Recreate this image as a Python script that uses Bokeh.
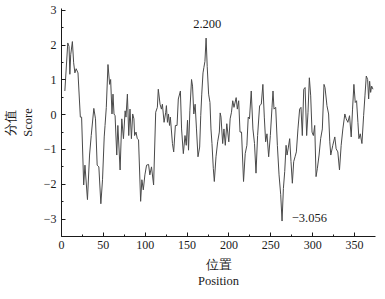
from bokeh.plotting import figure
from bokeh.models import Range1d, FixedTicker, Label
from bokeh.embed import file_html
from bokeh.resources import INLINE

positions = [4, 7.5, 9, 10, 11, 13, 14.5, 16, 17.5, 19.7, 22.5, 24, 26.5, 28, 31, 33.5, 35.5, 38.6,
             40.6, 42.6, 44.6, 47, 49, 51, 52, 53.5, 55.5, 57.5, 58.7, 60.3, 61.5, 62.7,
             64, 66, 67.3, 70, 72, 74, 76, 77, 78.7, 80.3, 81.8, 83.5, 85, 86.5, 87.3, 89, 90.5,
             92, 94.5, 96, 97.7, 99.6, 101.6, 104, 105.5, 107.5, 110, 112.5, 114.5, 115.6, 117.7,
             119.3, 120.5, 122.5, 124.5, 125.3, 126.5, 127.7, 129, 130, 132.5, 134, 136, 138, 139.5,
             142, 143.4, 145.5, 147.5, 149, 150.5, 151.7, 153.3, 155.3, 156.5, 158, 159.6, 161.2,
             163, 165, 166.3, 167.5, 169, 170, 171.3, 172.7, 174, 175.7, 177.3, 178.5, 179.7, 181.3,
             182.5, 184.5, 186.5, 188.5, 189.5, 190.5, 192.5, 194, 195.6, 197.4, 199.8, 201.4, 203,
             204.5, 206, 208.6, 210, 211.6, 213.2, 215, 217.4, 219.4, 221.4, 223, 224.5, 226.6,
             228.6, 230.5, 232.3, 234.2, 236.6, 238.6, 240.5, 242.2, 243.8, 245.4, 247.4, 249.4,
             251.4, 252.6, 253.8, 255.8, 257.8, 259.8, 261.8, 263.4, 265, 266.6, 268.2, 269.4, 271,
             272.5, 274.1, 275.7, 277.3, 278.9, 280.5, 282.4, 284.4, 286, 287.6, 289.3, 290.9, 292.8,
             294.4, 296, 297.6, 299.2, 300.8, 302.4, 304, 305.6, 307.6, 309.5, 311.5, 313.5, 314.7,
             316.2, 317, 319, 320.4, 321.6, 324, 326.4, 328, 330, 332, 334, 336, 338.4, 340, 342,
             344, 346, 347.6, 349.2, 350.8, 352.4, 354, 355.2, 356.8, 358.8, 360.8, 362.4, 364,
             365.6, 366.8, 368, 369.2, 370.4, 372]

scores = [0.68, 2.06, 1.96, 1.16, 1.72, 2.1, 1.49, 1.2, 1.32, 1.2, -0.07, -0.07, -2.02, -1.45, -2.44,
          -1.16, -0.6, 0.18, -0.12, -1.45, -1.5, -2.56, -1.87, -0.64, -0.31, 0.21, 1.44, 0.87, 1.01,
          0.02, 0.59, 0.02,
          -0.03, -1.16, -0.31, -1.59, -0.12, -0.69, 0.11, -0.07, 0.59, -0.6, 0.16, -0.69, 0.02,
          -0.12, -0.6, -0.5, -0.69, -0.72, -2.49, -1.87, -2.16, -1.73, -1.45, -1.43, -1.73, -1.5,
          -2.02, 0.07, 0.21, 0.73, 0.3, 0.16, 0.3, -0.22, 0.07, 0.26, -0.22, 0.02, -0.31, -0.07,
          -0.83, -1.07, -0.31, -0.31, 0.45, 0.68, -0.41, -1.12, -0.6, -0.88, -0.16, -1.02, 0.11,
          1.01, 0.82, 0.02, 0.3, -0.41, -1.21, -0.93, -0.03, 0.59, 1.2, 1.35, 1.53, 2.2, 1.39,
          0.59, 0.35, -0.41, -0.83, -1.54, -1.92, -1.21, -0.78, -0.5, 0.05, -0.07, -0.83, -0.41,
          -0.88, -0.26, -0.78, -0.12, 0.07, 0.4, 0.21, 0.49, 0.16, 0.4, -0.5, -0.5, -1.92, -1.12,
          -0.88, -0.07, -0.12, 0.68, -0.41, -0.83, -1.68, -0.6, 0.26, 0.3, 0.87, -0.07, -0.78,
          -0.55, -1.21, -0.6, 0.21, 0.68, 0.16, 0.21, -0.88, -1.73, -2.3, -3.056, -2.12, -1.63,
          -0.88, -1.16, -0.93, -0.69, -1.35, -1.97, -1.35, -1.21, -1.07, -0.41, 0.16, 0.21, -0.6,
          0.73, 0.78, -0.6, 0.07, 1.06, 0.54, -0.5, -0.6, -0.31, -1.78, -1.54, -1.16, -0.69, -0.41,
          0.87, 0.78, 0.45, 0.26, 0.02, -0.78, -1.16, -0.88, -0.64, -0.98, -1.07, -1.59, -0.88,
          -0.41, 0.02, -0.12, -0.22, -0.03, -0.64, 0.16, 0.87, 0.35, 0.4, -0.22, -0.69, -0.55,
          -0.83, -0.03, 0.54, 1.11, 1.01, 0.45, 0.96, 0.64, 0.82, 0.73]

x_ticks = [0, 50, 100, 150, 200, 250, 300, 350]
x_minor = [25, 75, 125, 175, 225, 275, 325]
y_ticks = [-3, -2, -1, 0, 1, 2, 3]
y_minor = [-3.5, -2.5, -1.5, -0.5, 0.5, 1.5, 2.5]
y_tick_labels = {-3: "\u22123", -2: "\u22122", -1: "\u22121", 0: "0", 1: "1", 2: "2", 3: "3"}

peak_text = "2.200"
peak_pos, peak_val = 174, 2.48
min_text = "\u22123.056"
min_pos, min_val = 275, -2.97

SERIF = "Liberation Serif"
INK = "#1a1a1a"

p = figure(width=377, height=291, output_backend="svg", toolbar_location=None,
           x_range=Range1d(0, 375), y_range=Range1d(-3.5, 3.05),
           min_border_left=61, min_border_right=2, min_border_top=8, min_border_bottom=52)
p.outline_line_color = None
p.grid.visible = False
p.background_fill_color = "white"
p.border_fill_color = "white"

p.line(positions, scores, line_color="#4a4a4a", line_width=1)

for ax in (p.xaxis[0], p.yaxis[0]):
    ax.axis_line_color = INK
    ax.major_tick_line_color = INK
    ax.minor_tick_line_color = INK
    ax.major_tick_in = 4
    ax.major_tick_out = 0
    ax.minor_tick_in = 2
    ax.minor_tick_out = 0
    ax.major_label_text_font = SERIF
    ax.major_label_text_font_size = "12px"
    ax.major_label_text_color = INK
    ax.axis_label_text_font = SERIF
    ax.axis_label_text_font_size = "12.5px"
    ax.axis_label_text_font_style = "normal"
    ax.axis_label_text_color = INK

p.xaxis.ticker = FixedTicker(ticks=x_ticks, minor_ticks=x_minor)
p.yaxis.ticker = FixedTicker(ticks=y_ticks, minor_ticks=y_minor)
p.yaxis.major_label_overrides = y_tick_labels
p.xaxis.major_label_standoff = 4
p.yaxis.major_label_standoff = 5
p.xaxis.axis_label = "位置\nPosition"
p.yaxis.axis_label = "分值\nScore"
p.xaxis.axis_label_standoff = 6
p.yaxis.axis_label_standoff = 6

p.add_layout(Label(x=peak_pos, y=peak_val, text=peak_text, text_align="center",
                   text_baseline="bottom", text_font=SERIF, text_font_size="12.5px",
                   text_color=INK))
p.add_layout(Label(x=min_pos, y=min_val, text=min_text, text_align="left",
                   text_baseline="middle", text_font=SERIF, text_font_size="12.5px",
                   text_color=INK))

open("out.html", "w").write(file_html(p, INLINE))
